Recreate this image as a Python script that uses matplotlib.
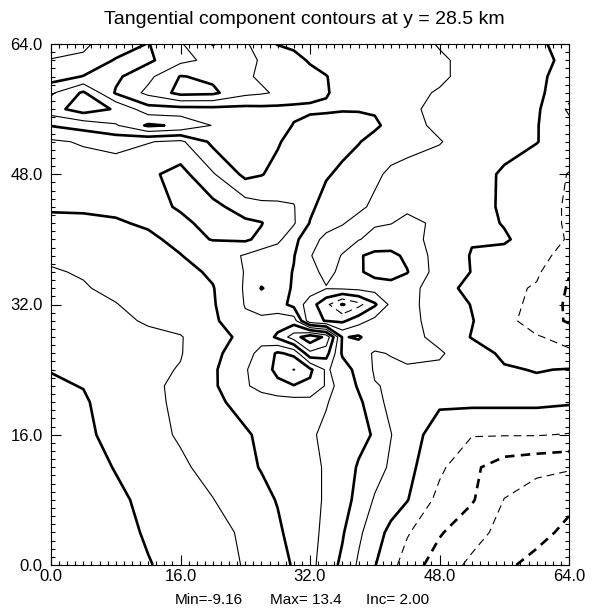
import numpy as np
import matplotlib
matplotlib.use("Agg")
import matplotlib.pyplot as plt

plt.rcParams['font.family'] = ['Liberation Sans', 'DejaVu Sans']

# grid coordinates (km)
x_km = [0, 4, 8, 12, 16, 20, 24, 26, 28, 30, 32, 34, 36, 38, 40, 42, 44, 48, 52, 56, 60, 64]
y_km = [0, 4, 8, 12, 16, 20, 22, 24, 26, 28, 30, 32, 34, 36, 38, 40, 42, 44, 48, 52, 54, 56, 58, 60, 62, 64]

# tangential component values, one row per y
v_y00 = [13.2, 13.0, 12.6, 12.1, 11.4, 10.6, 9.9, 9.5, 8.8, 7.8, 6.6, 5.0, 3.6, 1.7, 0.1, -1.4, -2.9, -5.0, -6.4, -7.7, -8.5, -9.1]
v_y04 = [13.3, 13.1, 12.6, 11.8, 11.2, 10.6, 9.7, 9.2, 8.3, 7.4, 6.5, 5.6, 4.2, 2.4, 0.8, -0.5, -1.8, -3.8, -5.3, -6.6, -7.5, -8.4]
v_y08 = [13.4, 13.0, 12.4, 11.5, 10.8, 10.05, 9.0, 8.5, 7.9, 7.2, 6.5, 5.8, 4.8, 3.4, 1.8, 0.9, 0.1, -2.6, -3.8, -6.05, -7.0, -7.6]
v_y12 = [13.2, 12.8, 11.9, 11.1, 10.3, 9.4, 8.4, 7.9, 7.5, 7.0, 6.5, 5.8, 5.05, 3.8, 2.8, 1.7, 0.6, -1.6, -3.6, -5.0, -5.5, -5.8]
v_y16 = [12.9, 12.4, 11.4, 10.6, 9.8, 9.0, 8.2, 7.7, 7.2, 6.8, 6.2, 5.7, 5.2, 4.6, 3.8, 2.05, 1.0, -1.0, -1.9, -1.9, -1.9, -2.1]
v_y20 = [12.5, 12.2, 11.2, 10.5, 9.6, 8.4, 7.4, 7.2, 7.0, 6.8, 6.7, 6.1, 5.4, 4.5, 2.5, 1.6, 1.0, 0.3, 0.4, 0.4, 0.4, 0.2]
v_y22 = [12.2, 11.95, 11.1, 10.4, 9.6, 8.3, 6.3, 5.2, 4.4, 4.1, 4.4, 6.2, 5.8, 3.7, 2.1, 1.8, 1.5, 1.0, 0.9, 0.6, 0.4, 0.4]
v_y24 = [11.95, 11.7, 11.1, 10.4, 9.9, 8.3, 6.2, 4.8, 3.6, 1.9, 3.6, 6.3, 5.0, 3.3, 1.8, 1.8, 1.8, 1.7, 0.9, 0.2, -0.1, 0.1]
v_y26 = [11.6, 11.4, 10.9, 10.3, 10.1, 8.6, 6.6, 5.5, 3.7, 4.5, 9.5, 8.8, 3.7, 2.4, 1.9, 2.05, 2.4, 2.2, 1.0, -0.4, -1.0, -1.8]
v_y28 = [11.3, 11.1, 10.8, 10.3, 10.1, 8.9, 7.4, 6.6, 8.4, 11.0, 13.4, 11.5, 3.8, 4.3, 2.6, 2.5, 2.6, 1.5, -0.1, -1.2, -1.9, -2.4]
v_y30 = [10.9, 10.7, 10.3, 9.85, 9.4, 8.4, 6.3, 6.4, 7.0, 7.0, 0.6, -0.1, -0.4, 1.2, 2.6, 2.8, 2.6, 1.2, 0.1, -1.6, -2.6, -4.3]
v_y32 = [10.6, 10.4, 10.05, 9.5, 9.0, 8.2, 5.9, 5.2, 4.8, 3.4, 1.0, -1.5, -4.2, -2.6, -0.3, 2.5, 2.3, 1.5, -0.1, -1.5, -2.4, -4.4]
v_y34 = [10.35, 10.1, 9.7, 9.3, 8.9, 8.1, 5.8, 3.9, 4.8, 3.8, 3.0, 2.1, 2.3, 2.5, 2.8, 3.2, 2.8, 0.8, -0.6, -1.5, -2.2, -4.2]
v_y36 = [10.1, 9.9, 9.5, 9.0, 8.6, 7.7, 5.9, 5.0, 4.8, 3.9, 2.6, 1.5, 2.4, 3.7, 4.7, 4.8, 4.1, 1.0, -0.05, -1.2, -1.7, -3.9]
v_y38 = [9.8, 9.6, 9.2, 8.5, 8.05, 7.2, 5.8, 5.0, 4.7, 4.1, 2.1, 1.2, 2.1, 3.8, 4.5, 4.5, 3.6, 1.1, -0.1, -0.5, -1.4, -2.7]
v_y40 = [9.1, 8.9, 8.6, 8.3, 7.6, 8.05, 8.3, 7.5, 6.5, 4.6, 2.6, 1.6, 1.3, 1.9, 2.6, 2.8, 2.7, 1.3, 0.1, 0.2, -0.8, -2.2]
v_y42 = [8.4, 8.3, 8.15, 7.8, 7.6, 8.6, 8.4, 8.1, 6.8, 6.2, 3.9, 2.6, 2.1, 1.5, 1.8, 1.95, 2.4, 1.7, 0.6, -0.1, -1.0, -2.3]
v_y44 = [7.8, 7.8, 7.7, 7.4, 8.2, 8.6, 7.0, 6.5, 6.3, 6.1, 4.4, 3.2, 2.8, 2.3, 1.7, 1.4, 1.7, 1.2, 0.8, -0.3, -1.0, -2.3]
v_y48 = [7.0, 7.1, 7.2, 7.6, 8.7, 6.2, 3.5, 3.9, 4.6, 5.0, 4.9, 4.2, 3.6, 3.0, 2.3, 1.7, 1.5, 1.1, 0.6, -0.2, -0.8, -2.1]
v_y52 = [6.3, 5.8, 5.3, 5.9, 6.4, 3.5, 3.0, 3.4, 3.8, 4.7, 5.0, 4.9, 4.6, 4.1, 3.4, 2.8, 2.5, 2.1, 1.1, 0.5, 0.05, -0.8]
v_y54 = [3.9, 3.2, 2.2, -0.3, 0.3, 2.1, 2.5, 2.8, 3.2, 4.1, 4.6, 4.6, 4.6, 4.5, 4.3, 3.5, 2.6, 1.6, 1.0, 0.6, 0.1, -1.5]
v_y56 = [0.8, -1.0, 0.2, 3.2, 3.3, 3.4, 3.4, 3.5, 3.5, 3.6, 3.7, 3.8, 3.9, 3.9, 3.8, 3.3, 2.3, 1.6, 1.0, 0.6, 0.3, -2.3]
v_y58 = [2.3, -0.3, 4.2, 6.5, 8.6, 8.4, 6.5, 6.2, 5.8, 5.0, 4.5, 4.1, 3.6, 3.4, 3.2, 2.8, 2.3, 1.9, 1.4, 0.9, 0.5, -1.5]
v_y60 = [5.0, 3.9, 3.6, 5.5, 8.1, 7.6, 6.2, 5.8, 5.4, 5.0, 4.6, 4.05, 3.5, 3.2, 3.0, 2.7, 2.4, 2.2, 1.6, 1.0, 0.4, -0.8]
v_y62 = [5.9, 5.8, 3.8, 3.6, 5.5, 6.5, 6.3, 5.9, 5.5, 4.6, 3.8, 3.5, 3.3, 3.1, 2.9, 2.7, 2.5, 2.1, 1.8, 1.0, 0.6, -0.5]
v_y64 = [7.0, 6.2, 5.4, 3.9, 5.8, 8.1, 6.3, 5.0, 3.9, 3.6, 3.4, 3.2, 3.0, 2.9, 2.7, 2.5, 2.3, 1.95, 1.4, 0.9, 0.4, -0.8]

rows = [v_y00, v_y04, v_y08, v_y12, v_y16, v_y20, v_y22, v_y24, v_y26, v_y28, v_y30,
        v_y32, v_y34, v_y36, v_y38, v_y40, v_y42, v_y44, v_y48, v_y52, v_y54, v_y56,
        v_y58, v_y60, v_y62, v_y64]

levels = [-8, -6, -4, -2, 0, 2, 4, 6, 8, 10, 12]
tick_vals = [0, 16, 32, 48, 64]
tick_labels = ["0.0", "16.0", "32.0", "48.0", "64.0"]
title_text = "Tangential component contours at y = 28.5 km"
stats_parts = ["Min=-9.16", "Max= 13.4", "Inc= 2.00"]

Z = np.array(rows, dtype=float)
X = np.array(x_km, dtype=float)
Y = np.array(y_km, dtype=float)

W, H = 592, 611
fig = plt.figure(figsize=(W / 100, H / 100), dpi=100)
L, R, T, B = 51, 569, 44, 565
ax = fig.add_axes([L / W, (H - B) / H, (R - L) / W, (B - T) / H])

for lev in levels:
    thick = (lev % 4 == 0)
    lw = 1.9 if thick else 0.8
    if lev < 0:
        ls = (0, (3.6, 2.4)) if thick else (0, (7.0, 4.5))
    else:
        ls = 'solid'
    ax.contour(X, Y, Z, levels=[lev], colors='black', linewidths=lw, linestyles=[ls])

ax.set_xlim(0, 64)
ax.set_ylim(0, 64)
ax.set_xticks(tick_vals)
ax.set_xticklabels(tick_labels)
ax.set_yticks(tick_vals)
ax.set_yticklabels(tick_labels)
ax.set_xticks(np.arange(0, 65, 1), minor=True)
ax.set_yticks(np.arange(0, 65, 1), minor=True)
ax.tick_params(which='both', direction='in', top=True, right=True, width=0.8, colors='black')
ax.tick_params(which='major', length=7)
ax.tick_params(which='minor', length=3.2)
ax.tick_params(axis='x', which='major', pad=3, labelsize=12)
ax.tick_params(axis='y', which='major', pad=6, labelsize=12)
for s in ax.spines.values():
    s.set_linewidth(0.8)

fig.text(304 / W, 1 - 23.5 / H, title_text, ha='center', va='baseline', fontsize=14)
stats_x = [175, 270, 366]
for px, txt in zip(stats_x, stats_parts):
    fig.text(px / W, 1 - 604 / H, txt, ha='left', va='baseline', fontsize=11)

fig.savefig("out.png", dpi=100)
